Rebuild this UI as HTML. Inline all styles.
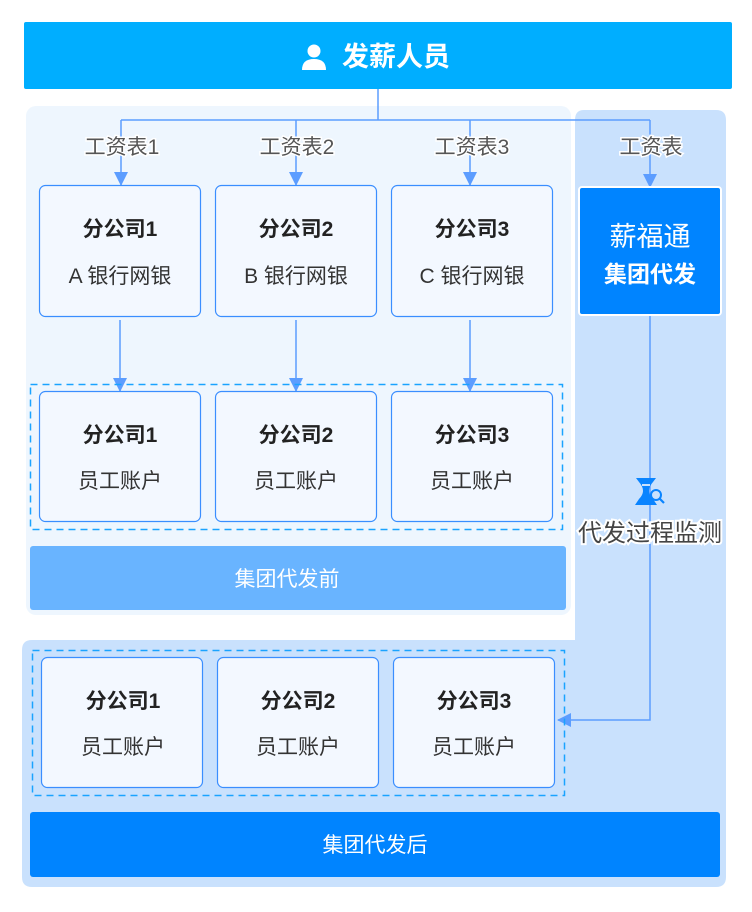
<!DOCTYPE html>
<html><head><meta charset="utf-8"><style>
html,body{margin:0;padding:0;background:#fff;}
svg{display:block;font-family:"Liberation Sans","Noto Sans CJK SC",sans-serif;}
.t{font-size:21px;fill:#222;font-weight:bold;text-anchor:middle;}
.s{font-size:21px;fill:#333;text-anchor:middle;}
.l{font-size:21px;fill:#555;text-anchor:middle;paint-order:stroke;stroke:#fff;stroke-width:3px;}
.b{fill:#f3f8ff;stroke:#3a8eff;stroke-width:1.2;}
</style></head><body>
<svg width="752" height="912" viewBox="0 0 752 912">
<defs>
<marker id="a2" markerWidth="14" markerHeight="14" refX="13" refY="7" orient="auto" markerUnits="userSpaceOnUse" viewBox="0 0 14 14"><path d="M0,0 L14,7 L0,14 z" fill="#5c9dff"/></marker></defs>
<rect x="0" y="0" width="752" height="912" fill="#fff"/>
<rect x="24" y="22" width="708" height="67" rx="2" fill="#00aeff"/>
<circle cx="314" cy="51" r="6.5" fill="#fff"/>
<path d="M302,70 Q302,59 314,59 Q326,59 326,70 Z" fill="#fff"/>
<text x="396" y="66" font-size="27" font-weight="bold" fill="#fff" text-anchor="middle">发薪人员</text>
<rect x="26" y="106" width="545" height="509" rx="10" fill="#eef6fe"/>
<path d="M584,110 H716 Q726,110 726,120 V877 Q726,887 716,887 H32 Q22,887 22,877 V650 Q22,640 32,640 H575 V120 Q575,110 584,110 Z" fill="#c9e1fd"/>
<g stroke="#5c9dff" stroke-width="1.5" fill="none">
<path d="M378,89 V120"/><path d="M121,120 H650"/>
<path d="M121,120 V185" marker-end="url(#a2)"/>
<path d="M296,120 V185" marker-end="url(#a2)"/>
<path d="M470,120 V185" marker-end="url(#a2)"/>
<path d="M650,120 V187" marker-end="url(#a2)"/>
<path d="M120,320 V391" marker-end="url(#a2)"/>
<path d="M296,320 V391" marker-end="url(#a2)"/>
<path d="M470,320 V391" marker-end="url(#a2)"/>
<path d="M650,314 V720 H558" marker-end="url(#a2)"/>
</g>
<text class="l" x="122" y="154">工资表1</text>
<text class="l" x="297" y="154">工资表2</text>
<text class="l" x="472" y="154">工资表3</text>
<text class="l" x="651" y="154">工资表</text>
<g>
<rect class="b" x="39.5" y="185.5" width="161" height="131" rx="6"/>
<rect class="b" x="215.5" y="185.5" width="161" height="131" rx="6"/>
<rect class="b" x="391.5" y="185.5" width="161" height="131" rx="6"/>
<text class="t" x="120" y="236">分公司1</text><text class="s" x="120" y="283">A 银行网银</text>
<text class="t" x="296" y="236">分公司2</text><text class="s" x="296" y="283">B 银行网银</text>
<text class="t" x="472" y="236">分公司3</text><text class="s" x="472" y="283">C 银行网银</text>
</g>
<rect x="579" y="187" width="142" height="128" rx="3" fill="#0084ff" stroke="#fff" stroke-width="2"/>
<text x="650" y="246" font-size="27" fill="#fff" text-anchor="middle">薪福通</text>
<text x="650" y="282" font-size="23" fill="#fff" text-anchor="middle" font-weight="bold">集团代发</text>
<rect x="30.5" y="384.5" width="532" height="145" fill="none" stroke="#1aa3ff" stroke-width="1.5" stroke-dasharray="7,5"/>
<rect class="b" x="39.5" y="391.5" width="161" height="130" rx="6"/>
<rect class="b" x="215.5" y="391.5" width="161" height="130" rx="6"/>
<rect class="b" x="391.5" y="391.5" width="161" height="130" rx="6"/>
<text class="t" x="120" y="442">分公司1</text><text class="s" x="120" y="488">员工账户</text>
<text class="t" x="296" y="442">分公司2</text><text class="s" x="296" y="488">员工账户</text>
<text class="t" x="472" y="442">分公司3</text><text class="s" x="472" y="488">员工账户</text>
<rect x="30" y="546" width="536" height="64" rx="3" fill="#69b4ff"/>
<text x="287" y="586" font-size="21" fill="#fff" text-anchor="middle">集团代发前</text>
<path d="M636,478 H656 L653,482 Q645,491 653,499 L657,505 H635 L639,499 Q647,491 639,482 Z" fill="#0a84ff"/>
<rect x="642" y="484" width="8" height="2" fill="#c9e1fd"/>
<circle cx="656" cy="495" r="5" fill="#c9e1fd" stroke="#0a84ff" stroke-width="2"/>
<path d="M659.5,498.5 L664,503" stroke="#0a84ff" stroke-width="2.2"/>
<text x="650" y="541" font-size="24" fill="#444" text-anchor="middle" style="paint-order:stroke;stroke:#fff;stroke-width:4px">代发过程监测</text>
<rect x="32.5" y="650.5" width="532" height="145" fill="none" stroke="#1aa3ff" stroke-width="1.5" stroke-dasharray="7,5"/>
<rect class="b" x="41.5" y="657.5" width="161" height="130" rx="6"/>
<rect class="b" x="217.5" y="657.5" width="161" height="130" rx="6"/>
<rect class="b" x="393.5" y="657.5" width="161" height="130" rx="6"/>
<text class="t" x="123" y="708">分公司1</text><text class="s" x="123" y="754">员工账户</text>
<text class="t" x="298" y="708">分公司2</text><text class="s" x="298" y="754">员工账户</text>
<text class="t" x="474" y="708">分公司3</text><text class="s" x="474" y="754">员工账户</text>
<rect x="30" y="812" width="690" height="65" rx="3" fill="#0084ff"/>
<text x="375" y="852" font-size="21" fill="#fff" text-anchor="middle">集团代发后</text>
</svg>
</body></html>
